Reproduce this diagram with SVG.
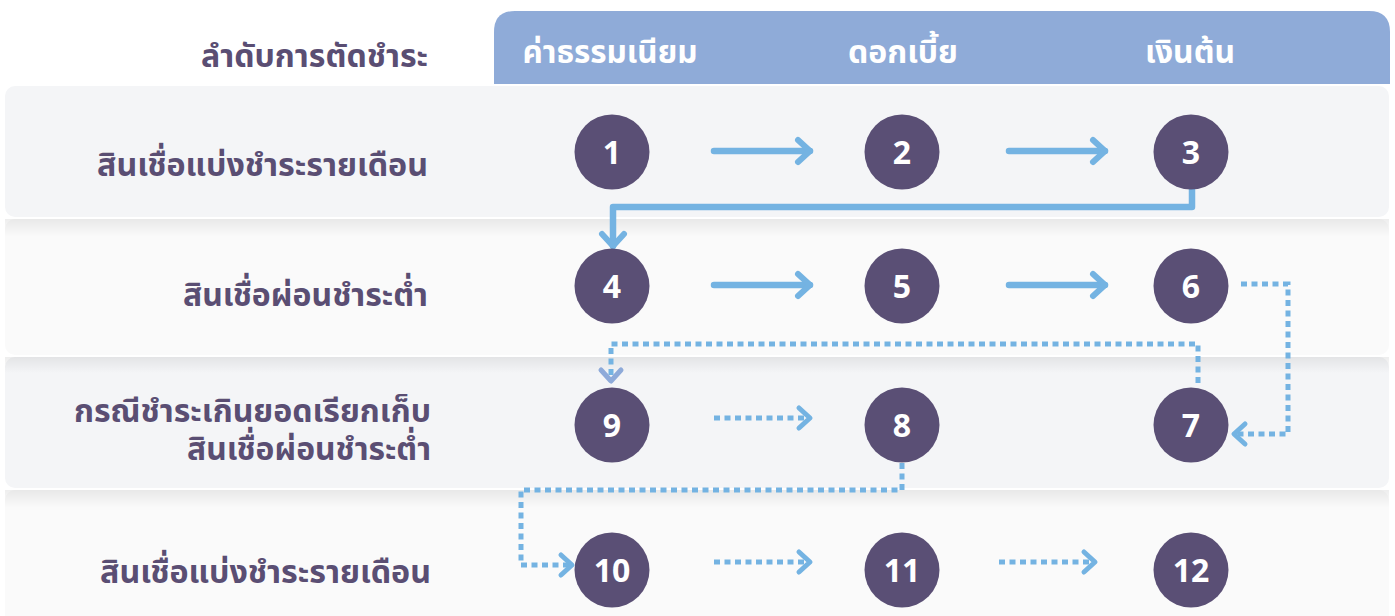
<svg xmlns="http://www.w3.org/2000/svg" width="1395" height="616" viewBox="0 0 1395 616">
<defs>
<style>
.lbl{font-family:"Noto Sans Thai","Noto Sans",sans-serif;font-weight:700;font-size:32px;fill:#5a4e73;text-anchor:end}
.hd{font-family:"Noto Sans Thai","Noto Sans",sans-serif;font-weight:700;font-size:31px;fill:#ffffff;text-anchor:middle}
.num{font-family:"Noto Sans","Liberation Sans",sans-serif;font-weight:700;font-size:32px;fill:#ffffff;text-anchor:middle}
.node circle{fill:#5a4f75}
.solid{fill:none;stroke:#74b3e2;stroke-width:6.5;stroke-linecap:round;stroke-linejoin:round}
.dot{fill:none;stroke:#74b3e2;stroke-width:5;stroke-dasharray:6 4.5}
.odd{fill:#f4f5f7}
.even{fill:#fafafa}
</style>
<linearGradient id="sh" x1="0" y1="0" x2="0" y2="1">
<stop offset="0" stop-color="#000" stop-opacity="0.07"/>
<stop offset="1" stop-color="#000" stop-opacity="0"/>
</linearGradient>
<marker id="ah" markerUnits="userSpaceOnUse" orient="auto" refX="0" refY="0" overflow="visible">
<path d="M-12,-11 L0,0 L-12,11" fill="none" stroke="#74b3e2" stroke-width="6" stroke-linecap="round" stroke-linejoin="round"/>
</marker>
<marker id="ahs" markerUnits="userSpaceOnUse" orient="auto" refX="0" refY="0" overflow="visible">
<path d="M-11,-10 L0,0 L-11,10" fill="none" stroke="#74b3e2" stroke-width="5" stroke-linecap="round" stroke-linejoin="round"/>
</marker>
<marker id="ahp" markerUnits="userSpaceOnUse" orient="auto" refX="0" refY="0" overflow="visible">
<path d="M-11,-10 L0,0 L-11,10" fill="none" stroke="#8eaad9" stroke-width="5" stroke-linecap="round" stroke-linejoin="round"/>
</marker>
</defs>
<rect width="1395" height="616" fill="#ffffff"/>
<g id="rows">
<rect class="odd" x="5" y="86" width="1384" height="131" rx="10"/>
<rect class="even" x="5" y="219" width="1384" height="136" rx="10"/>
<rect x="5" y="219" width="1384" height="18" fill="url(#sh)"/>
<rect class="odd" x="5" y="357" width="1384" height="131" rx="10"/>
<rect x="5" y="357" width="1384" height="16" fill="url(#sh)"/>
<rect class="even" x="5" y="490" width="1384" height="140" rx="10"/>
<rect x="5" y="490" width="1384" height="18" fill="url(#sh)"/>
</g>
<g id="header">
<path d="M494,84 V32 Q494,11 515,11 H1369 Q1390,11 1390,32 V84 Z" fill="#8fabd8"/>
<text class="hd" x="610" y="63" textLength="175" lengthAdjust="spacingAndGlyphs">ค่าธรรมเนียม</text>
<text class="hd" x="903" y="63" textLength="110" lengthAdjust="spacingAndGlyphs">ดอกเบี้ย</text>
<text class="hd" x="1190" y="63" textLength="90" lengthAdjust="spacingAndGlyphs">เงินต้น</text>
<text class="lbl" x="428" y="67" textLength="227" lengthAdjust="spacingAndGlyphs">ลำดับการตัดชำระ</text>
</g>
<g id="labels">
<text class="lbl" x="428" y="176" textLength="331" lengthAdjust="spacingAndGlyphs">สินเชื่อแบ่งชำระรายเดือน</text>
<text class="lbl" x="428" y="306" textLength="245" lengthAdjust="spacingAndGlyphs">สินเชื่อผ่อนชำระต่ำ</text>
<text class="lbl" x="431" y="422" textLength="357" lengthAdjust="spacingAndGlyphs">กรณีชำระเกินยอดเรียกเก็บ</text>
<text class="lbl" x="431" y="460" textLength="244" lengthAdjust="spacingAndGlyphs">สินเชื่อผ่อนชำระต่ำ</text>
<text class="lbl" x="431" y="583" textLength="331" lengthAdjust="spacingAndGlyphs">สินเชื่อแบ่งชำระรายเดือน</text>
</g>
<g id="connectors">
<path class="solid" d="M714,151 H810" marker-end="url(#ah)"/>
<path class="solid" d="M1009,151 H1105" marker-end="url(#ah)"/>
<path class="solid" d="M1192,189 V207 H613 V246" marker-end="url(#ah)"/>
<path class="solid" d="M714,285 H810" marker-end="url(#ah)"/>
<path class="solid" d="M1009,285 H1105" marker-end="url(#ah)"/>
<path class="dot" d="M1241,284 H1288 V434 H1234" marker-end="url(#ahs)"/>
<path class="dot" d="M1198,383 V344 H611 V381" marker-end="url(#ahp)"/>
<path class="dot" d="M714,418 H810" marker-end="url(#ahs)"/>
<path class="dot" d="M902,463 V490 H521 V565 H572" marker-end="url(#ahs)"/>
<path class="dot" d="M714,562 H810" marker-end="url(#ahs)"/>
<path class="dot" d="M999,562 H1095" marker-end="url(#ahs)"/>
</g>
<g id="n1" class="node"><circle cx="612" cy="152" r="37.5"/><text class="num" x="612" y="164">1</text></g>
<g id="n2" class="node"><circle cx="902" cy="152" r="37.5"/><text class="num" x="902" y="164">2</text></g>
<g id="n3" class="node"><circle cx="1191" cy="152" r="37.5"/><text class="num" x="1191" y="164">3</text></g>
<g id="n4" class="node"><circle cx="612" cy="286" r="37.5"/><text class="num" x="612" y="298">4</text></g>
<g id="n5" class="node"><circle cx="902" cy="286" r="37.5"/><text class="num" x="902" y="298">5</text></g>
<g id="n6" class="node"><circle cx="1191" cy="286" r="37.5"/><text class="num" x="1191" y="298">6</text></g>
<g id="n9" class="node"><circle cx="612" cy="425" r="37.5"/><text class="num" x="612" y="437">9</text></g>
<g id="n8" class="node"><circle cx="902" cy="425" r="37.5"/><text class="num" x="902" y="437">8</text></g>
<g id="n7" class="node"><circle cx="1191" cy="425" r="37.5"/><text class="num" x="1191" y="437">7</text></g>
<g id="n10" class="node"><circle cx="612" cy="570" r="37.5"/><text class="num" x="612" y="582">10</text></g>
<g id="n11" class="node"><circle cx="902" cy="570" r="37.5"/><text class="num" x="902" y="582">11</text></g>
<g id="n12" class="node"><circle cx="1191" cy="570" r="37.5"/><text class="num" x="1191" y="582">12</text></g>
</svg>
